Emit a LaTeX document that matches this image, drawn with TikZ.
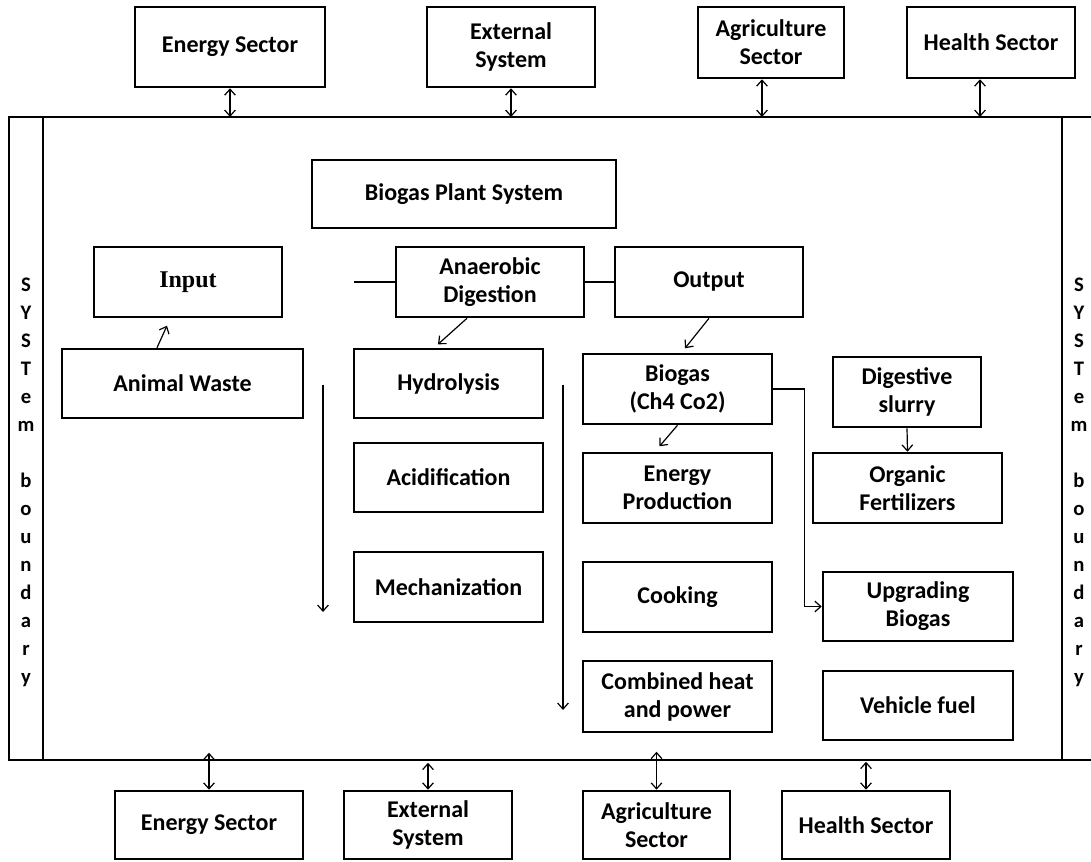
\documentclass[tikz,border=0pt]{standalone}
\usepackage{fontspec}
\setmainfont{Carlito}
\newfontfamily\timesbf{Liberation Serif}
\usetikzlibrary{arrows.meta}

\tikzset{
  box/.style={draw, line width=1.9pt, align=center, inner sep=0pt, font=\fontsize{18}{21}\selectfont\bfseries},
  wh/.style 2 args={minimum width=#1*0.75pt, minimum height=#2*0.75pt},
  arr/.style={line width=0.9pt, -{Straight Barb[length=4.5pt,width=8pt]}},
  dbl/.style={line width=0.9pt, {Straight Barb[length=4.5pt,width=8pt]}-{Straight Barb[length=4.5pt,width=8pt]}},
  frame/.style={line width=1.9pt},
  side/.style={align=center, inner sep=0pt, font=\fontsize{15.5}{21}\selectfont\bfseries},
}

\begin{document}
\begin{tikzpicture}[x=0.75pt,y=0.75pt,yscale=-1,xscale=1]
\useasboundingbox (0,0) rectangle (1091,862);

%System frame
\draw[frame] (9,117) rectangle (1100,760);
\draw[frame] (43,117) -- (43,760);
\draw[frame] (1062,117) -- (1062,760);

% Boundary labels
\node[side] (leftBound) at (26,482) {S\\Y\\S\\T\\e\\m\\\mbox{}\\b\\o\\u\\n\\d\\a\\r\\y};
\node[side] (rightBound) at (1079,482) {S\\Y\\S\\T\\e\\m\\\mbox{}\\b\\o\\u\\n\\d\\a\\r\\y};

% Sectors above
\node[box, wh={190}{80}] (topEnergy) at (230,47) {Energy Sector};
\node[box, wh={168}{80}] (topExternal) at (511,47) {External\\System};
\node[box, wh={146}{71}] (topAgri) at (771,42.5) {Agriculture\\Sector};
\node[box, wh={168}{71}] (topHealth) at (991,42.5) {Health Sector};

% Sectors below
\node[box, wh={188}{68}] (botEnergy) at (209,825) {Energy Sector};
\node[box, wh={168}{68}] (botExternal) at (428,825) {External\\System};
\node[box, wh={147}{68}] (botAgri) at (656.5,825) {Agriculture\\Sector};
\node[box, wh={168}{68}] (botHealth) at (866,825) {Health Sector};

% Plant
\node[box, wh={304}{68}] (plant) at (464,194) {Biogas Plant System};
\node[box, wh={188}{70}, font=\fontsize{18}{21}\selectfont\timesbf\bfseries] (input) at (188,282) {Input};
\node[box, wh={188}{70}] (anaerobic) at (490,282) {Anaerobic\\Digestion};
\node[box, wh={188}{70}] (output) at (709,282) {Output};

\node[box, wh={241}{69}] (waste) at (182.5,383.5) {Animal Waste};
\node[box, wh={189}{69}] (hydro) at (448.5,383.5) {Hydrolysis};
\node[box, wh={189}{69}] (acid) at (448.5,477.5) {Acidification};
\node[box, wh={189}{70}] (mech) at (448.5,587) {Mechanization};

\node[box, wh={189}{70}] (biogas) at (677.5,389) {Biogas\\(Ch4 Co2)};
\node[box, wh={189}{70}] (energyProd) at (677.5,488) {Energy\\Production};
\node[box, wh={189}{70}] (cooking) at (677.5,597) {Cooking};
\node[box, wh={189}{71}] (chp) at (677.5,696.5) {Combined heat\\and power};

\node[box, wh={148}{70}] (slurry) at (907,392) {Digestive\\slurry};
\node[box, wh={189}{70}] (fert) at (907.5,488) {Organic\\Fertilizers};
\node[box, wh={190}{69}] (upgrade) at (918,606.5) {Upgrading\\Biogas};
\node[box, wh={190}{69}] (fuel) at (918,705.5) {Vehicle fuel};

% links to the sectors
\draw[dbl] (topEnergy.south) -- (230,117);
\draw[dbl] (topExternal.south) -- (511,117);
\draw[dbl] (topAgri.south -| 762,0) -- (762,117);
\draw[dbl] (topHealth.south -| 980,0) -- (980,117);
\draw[dbl] (botEnergy.north) -- ++(0,-37);
\draw[dbl] (botExternal.north) -- ++(0,-27);
\draw[dbl] (botAgri.north) -- ++(0,-38);
\draw[dbl] (botHealth.north) -- ++(0,-28);

% process flow
\draw[arr] (waste.north -| 157,0) -- ++(10,-22);
\draw[line width=0.9pt] (anaerobic.west) -- ++(-41,0);
\draw[line width=0.9pt] (anaerobic) -- (output);
\draw[arr] (anaerobic.south -| 467,0) -- ++(-29,26);
\draw[arr] (output.south) -- ++(-24,30);
\draw[arr] (biogas.south) -- ++(-18,21);
\draw[arr] (slurry.south) -- (fert.north);
\draw[arr] (biogas.east) -- ++(31,0) |- (upgrade.west);

\coordinate (stepsTop) at (323,385);
\coordinate (stepsEnd) at (323,612);
\coordinate (useTop) at (563,385);
\coordinate (useEnd) at (563,710);
\draw[arr] (stepsTop) -- (stepsEnd);
\draw[arr] (useTop) -- (useEnd);

\end{tikzpicture}
\end{document}
